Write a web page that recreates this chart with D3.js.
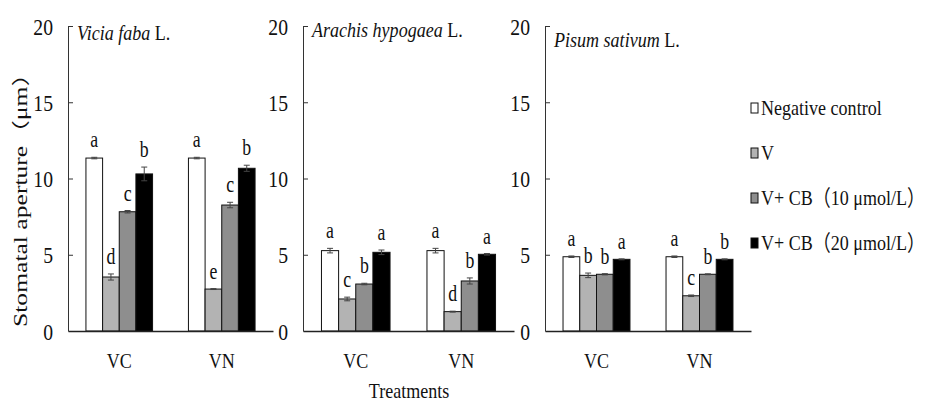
<html>
<head>
<script src="https://cdn.jsdelivr.net/npm/d3@7"></script>
<style>
  body { margin: 0; background: #fff; }
  text { font-family: "Liberation Serif", "Times New Roman", "Noto Sans CJK SC", serif; fill: #111; }
</style>
</head>
<body>
<script>
// data
var categories = ["VC", "VN"];
var seriesNames = ["Negative control", "V", "V+ CB\uFF0810 \u03BCmol/L\uFF09", "V+ CB\uFF0820 \u03BCmol/L\uFF09"];
var yTicks = [0, 5, 10, 15, 20];

var viciaMeans   = [[11.34, 3.54, 7.82, 10.30], [11.34, 2.75, 8.26, 10.67]];
var viciaErrors  = [[0.05, 0.20, 0.08, 0.45], [0.05, 0.03, 0.18, 0.20]];
var viciaLetters = [["a", "d", "c", "b"], ["a", "e", "c", "b"]];

var arachisMeans   = [[5.27, 2.10, 3.08, 5.16], [5.27, 1.27, 3.28, 5.03]];
var arachisErrors  = [[0.15, 0.12, 0.05, 0.15], [0.15, 0.03, 0.20, 0.05]];
var arachisLetters = [["a", "c", "b", "a"], ["a", "d", "b", "a"]];

var pisumMeans   = [[4.87, 3.65, 3.72, 4.70], [4.87, 2.31, 3.72, 4.70]];
var pisumErrors  = [[0.05, 0.15, 0.04, 0.03], [0.05, 0.05, 0.03, 0.03]];
var pisumLetters = [["a", "b", "b", "a"], ["a", "c", "b", "b"]];

var panels = [
  {genus: "Vicia faba", means: viciaMeans, errors: viciaErrors, letters: viciaLetters},
  {genus: "Arachis hypogaea", means: arachisMeans, errors: arachisErrors, letters: arachisLetters},
  {genus: "Pisum sativum", means: pisumMeans, errors: pisumErrors, letters: pisumLetters}
];

// layout
var W = 928, H = 403;
var panelLeft  = [68, 303, 545];
var panelRight = [273, 514, 751];
var titleY = [40, 37, 47];
var plotTop = 26, plotBottom = 331;
var sx = 0.82; // the figure is squeezed sideways
var colors = ["#ffffff", "#b3b3b3", "#8e8e8e", "#000000"];

var svg = d3.select("body").append("svg")
  .attr("width", W).attr("height", H);

var y = d3.scaleLinear().domain([0, 20]).range([plotBottom, plotTop]);

function squeezed(sel, x, yy, k) {
  return sel.attr("x", 0).attr("y", 0)
    .attr("transform", "translate(" + x + "," + yy + ") scale(" + (k || sx) + ",1)");
}

panels.forEach(function(p, pi) {
  var g = svg.append("g");
  var x0 = d3.scaleBand().domain(categories).range([panelLeft[pi], panelRight[pi]]).padding(0);
  var bw = x0.bandwidth();
  var x1 = d3.scaleBand().domain(d3.range(seriesNames.length)).range([bw * 0.175, bw * 0.825]).padding(0);

  // y axis
  var ya = g.append("g")
    .attr("transform", "translate(" + panelLeft[pi] + ",0)")
    .call(d3.axisLeft(y).tickValues(yTicks).tickSizeInner(-5).tickSizeOuter(0).tickPadding(0));
  ya.select(".domain").attr("stroke", "#333");
  ya.selectAll(".tick line").attr("stroke", "#333").filter(function(d) { return d === 0; }).remove();
  ya.selectAll(".tick text")
    .attr("font-size", 24).attr("fill", "#111")
    .attr("x", 0).attr("dy", "0.34em")
    .attr("transform", "translate(-15,0) scale(" + sx + ",1)");

  // bars
  categories.forEach(function(c, ci) {
    var grp = g.append("g").attr("transform", "translate(" + x0(c) + ",0)");
    var rows = p.means[ci].map(function(v, si) {
      return {s: si, v: v, e: p.errors[ci][si], l: p.letters[ci][si]};
    });
    grp.selectAll("rect").data(rows).enter().append("rect")
      .attr("x", function(d) { return x1(d.s); })
      .attr("y", function(d) { return y(d.v); })
      .attr("width", x1.bandwidth())
      .attr("height", function(d) { return y(0) - y(d.v); })
      .attr("fill", function(d) { return colors[d.s]; })
      .attr("stroke", "#111").attr("stroke-width", 1);

    var eb = grp.selectAll("g.err").data(rows).enter().append("g").attr("class", "err")
      .attr("stroke", "#444").attr("stroke-width", 1);
    eb.append("line")
      .attr("x1", function(d) { return x1(d.s) + x1.bandwidth() / 2; })
      .attr("x2", function(d) { return x1(d.s) + x1.bandwidth() / 2; })
      .attr("y1", function(d) { return y(d.v - d.e); })
      .attr("y2", function(d) { return y(d.v + d.e); });
    [-1, 1].forEach(function(k) {
      eb.append("line")
        .attr("x1", function(d) { return x1(d.s) + x1.bandwidth() / 2 - 3; })
        .attr("x2", function(d) { return x1(d.s) + x1.bandwidth() / 2 + 3; })
        .attr("y1", function(d) { return y(d.v + k * d.e); })
        .attr("y2", function(d) { return y(d.v + k * d.e); });
    });

    grp.selectAll("text.lt").data(rows).enter().append("text").attr("class", "lt")
      .attr("font-size", 24).attr("text-anchor", "middle")
      .text(function(d) { return d.l; })
      .each(function(d) {
        squeezed(d3.select(this), x1(d.s) + x1.bandwidth() / 2, y(d.v + d.e) - 10, 0.74);
      });
  });

  // x axis line and category labels
  var xa = g.append("g")
    .attr("transform", "translate(0," + plotBottom + ")")
    .call(d3.axisBottom(x0).tickSize(0).tickSizeOuter(0).tickPadding(0));
  xa.select(".domain").attr("stroke", "#222").attr("stroke-width", 1.5);
  xa.selectAll(".tick text")
    .attr("font-size", 22).attr("fill", "#111")
    .attr("y", 0).attr("dy", 0)
    .attr("transform", "translate(0,37) scale(" + sx + ",1)");

  // panel title
  var t = g.append("text").attr("font-size", 22);
  t.append("tspan").attr("font-style", "italic").text(p.genus);
  t.append("tspan").text(" L.");
  squeezed(t, panelLeft[pi] + 9, titleY[pi]);
});

// y axis title
svg.append("text")
  .attr("font-size", 18)
  .attr("text-anchor", "middle")
  .attr("transform", "translate(27,194) rotate(-90)")
  .attr("textLength", 266).attr("lengthAdjust", "spacingAndGlyphs")
  .text("Stomatal aperture\uFF08\u03BCm\uFF09");

// x axis title
squeezed(svg.append("text").attr("font-size", 22).attr("text-anchor", "middle").text("Treatments"),
  409, 398);

// legend
var legend = svg.append("g");
seriesNames.forEach(function(n, i) {
  var by = 115 + i * 45;
  legend.append("rect")
    .attr("x", 751).attr("y", by - 12).attr("width", 7).attr("height", 10)
    .attr("fill", colors[i]).attr("stroke", "#111").attr("stroke-width", 1);
  squeezed(legend.append("text").attr("font-size", 22).text(n), 761, by);
});
</script>
</body>
</html>
